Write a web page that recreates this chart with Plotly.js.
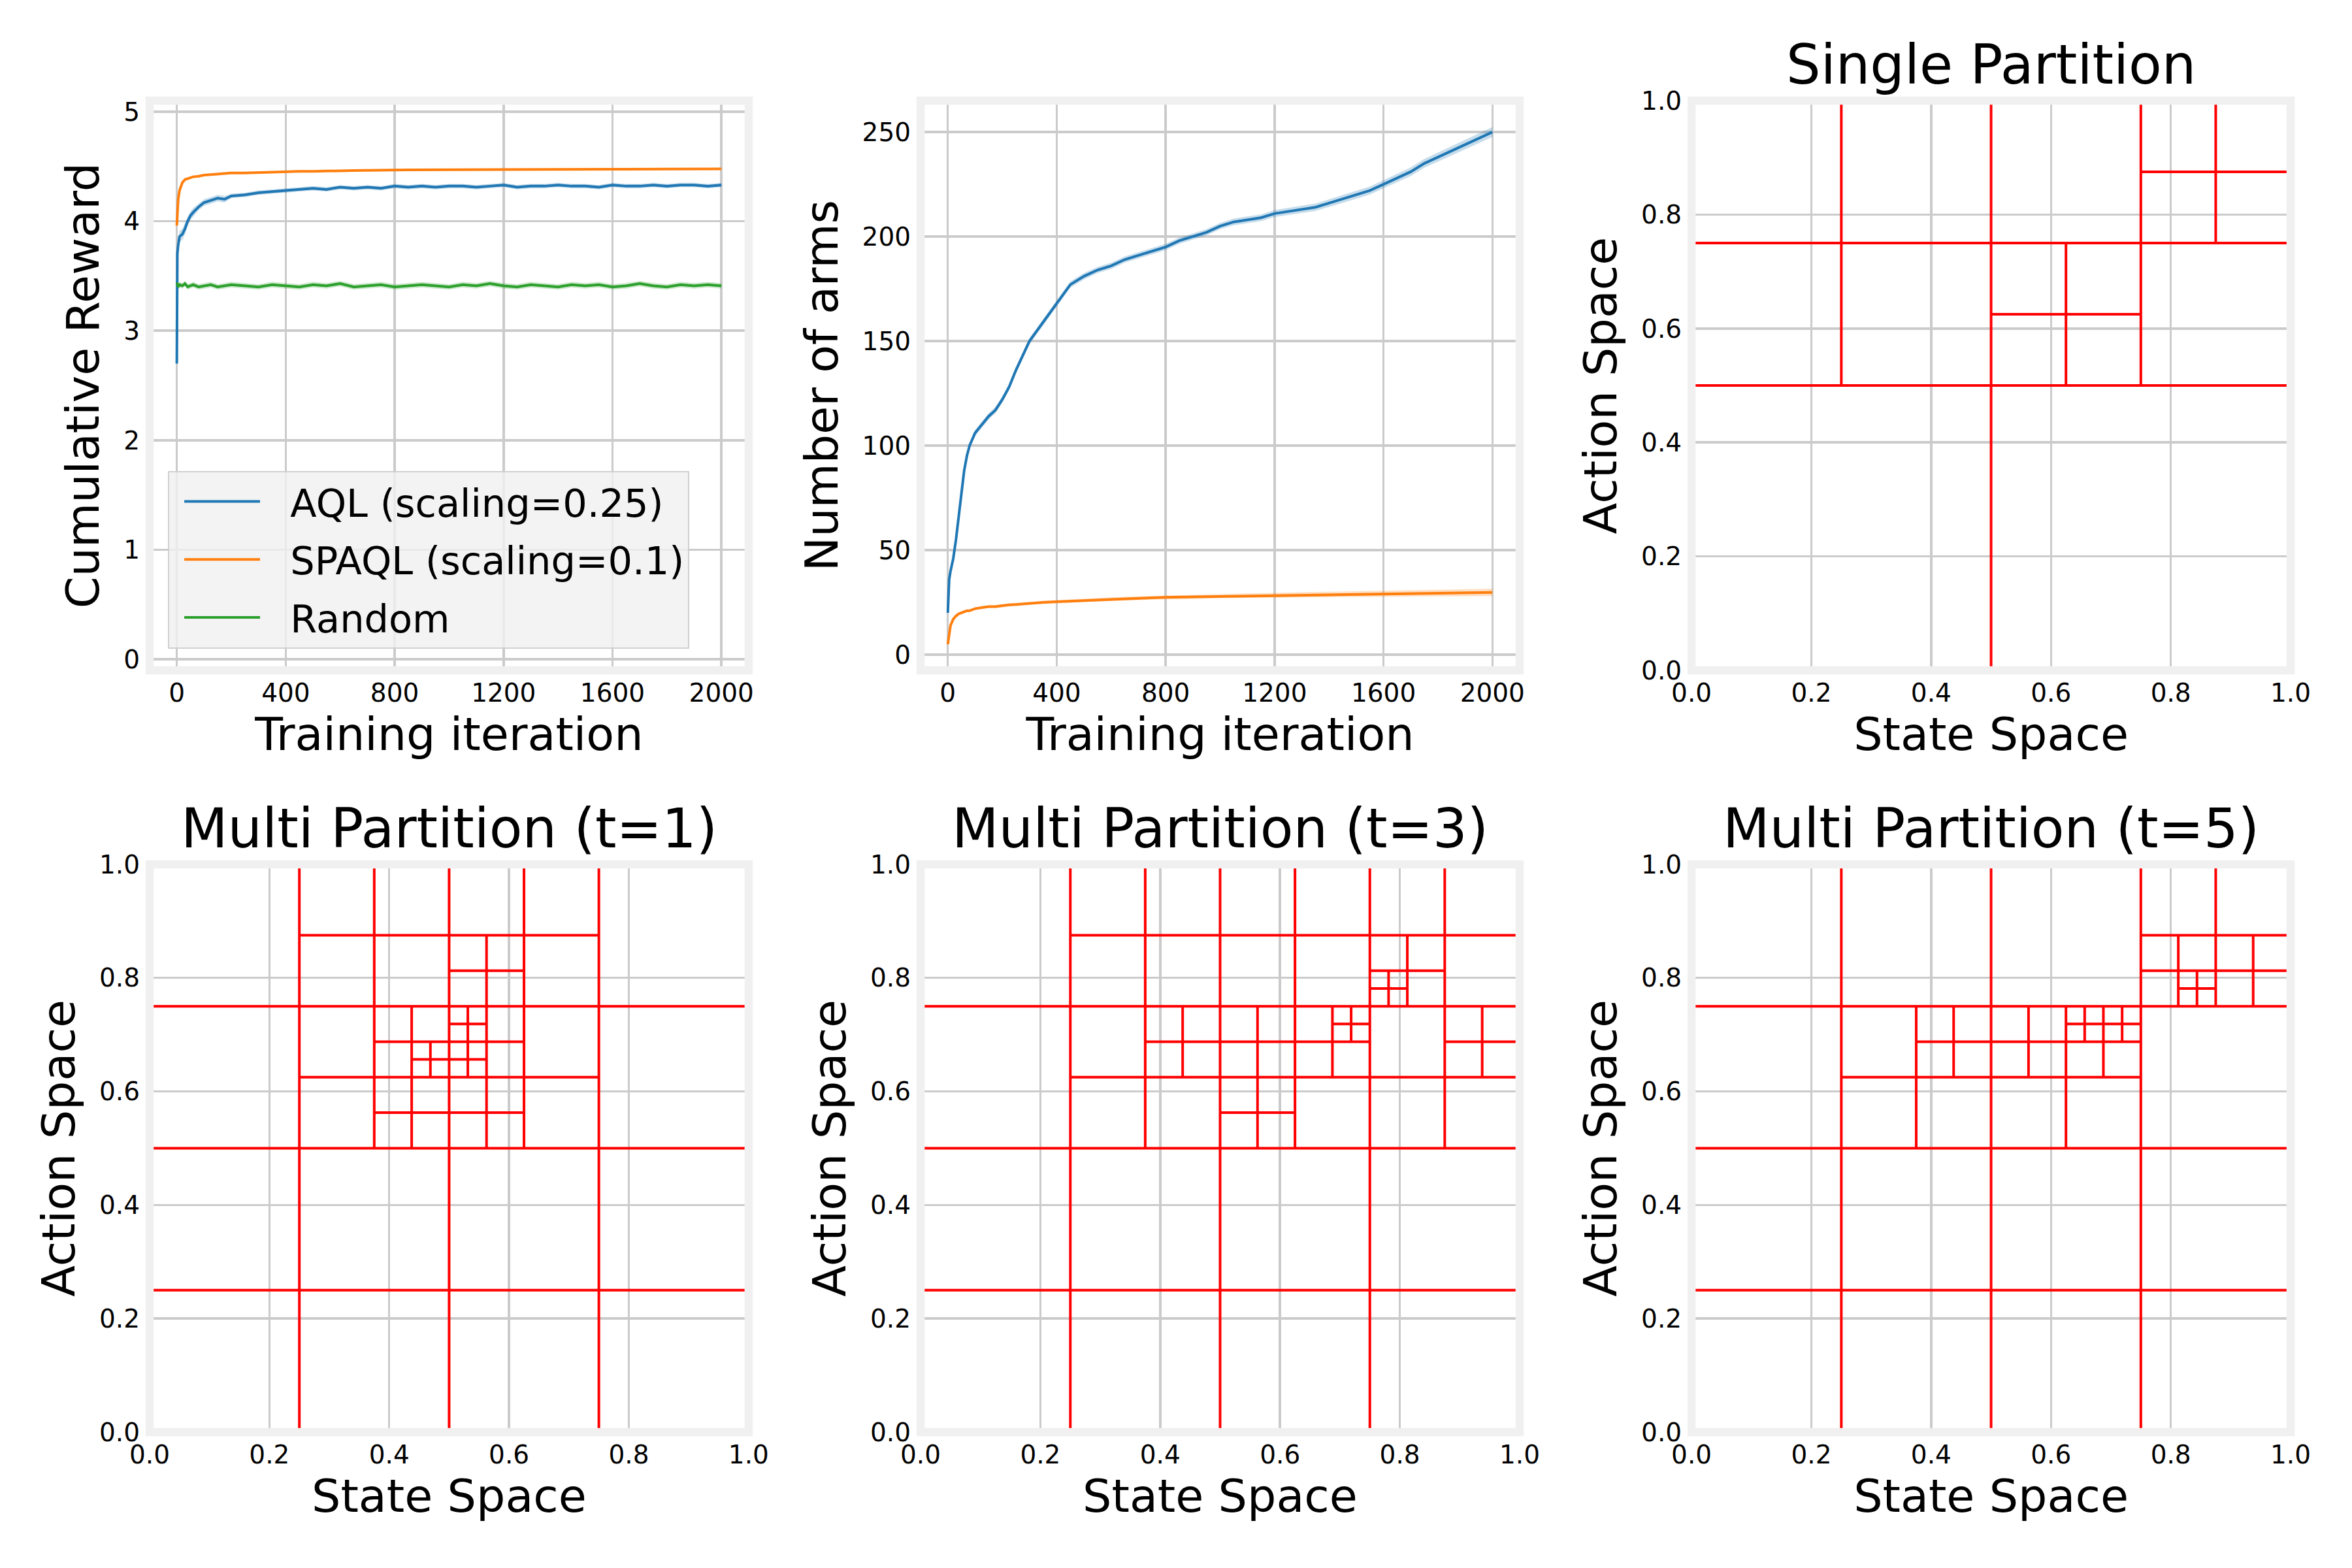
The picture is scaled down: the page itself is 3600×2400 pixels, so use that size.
<!DOCTYPE html>
<html>
<head>
<meta charset="utf-8">
<script src="https://cdn.plot.ly/plotly-3.0.1.min.js"></script>
<style>body{margin:0;background:#fff}</style>
</head>
<body>
<div id="chart" style="width:3600px;height:2400px"></div>
<script>
const FONT = 'DejaVu Sans, sans-serif';
const BLUE = '#1f77b4', ORANGE = '#ff7f0e', GREEN = '#2ca02c';

// cumulative reward per training iteration
const iterReward = [0, 2, 5, 10, 20, 30, 40, 50, 60, 80, 100, 125, 150, 175, 200,
    250, 300, 350, 400, 450, 500, 550, 600, 650, 700, 750, 800, 850, 900, 950,
    1000, 1050, 1100, 1150, 1200, 1250, 1300, 1350, 1400, 1450, 1500, 1550, 1600, 1650, 1700,
    1750, 1800, 1850, 1900, 1950, 2000];
const aqlReward = [2.70, 3.70, 3.78, 3.86, 3.88, 3.93, 4.00, 4.05, 4.08, 4.13, 4.17, 4.19, 4.21, 4.20, 4.23,
    4.24, 4.26, 4.27, 4.28, 4.29, 4.30, 4.29, 4.31, 4.30, 4.31, 4.30, 4.32, 4.31, 4.32, 4.31,
    4.32, 4.32, 4.31, 4.32, 4.33, 4.31, 4.32, 4.32, 4.33, 4.32, 4.32, 4.31, 4.33, 4.32, 4.32,
    4.33, 4.32, 4.33, 4.33, 4.32, 4.33];
const aqlRewardSpread = [0.03, 0.06, 0.06, 0.05, 0.05, 0.05, 0.04, 0.04, 0.04, 0.03, 0.03, 0.03, 0.03, 0.03, 0.02,
    0.02, 0.02, 0.02, 0.02, 0.02, 0.02, 0.02, 0.02, 0.02, 0.02, 0.02, 0.02, 0.02, 0.02, 0.02,
    0.02, 0.02, 0.02, 0.02, 0.02, 0.02, 0.02, 0.02, 0.02, 0.02, 0.02, 0.02, 0.02, 0.02, 0.02,
    0.02, 0.02, 0.02, 0.02, 0.02, 0.02];
const spaqlReward = [3.96, 4.10, 4.20, 4.28, 4.35, 4.38, 4.39, 4.40, 4.405, 4.41, 4.42, 4.425, 4.43, 4.435, 4.44,
    4.44, 4.445, 4.45, 4.45, 4.455, 4.455, 4.46, 4.46, 4.462, 4.465, 4.465, 4.467, 4.468, 4.468, 4.47,
    4.47, 4.47, 4.47, 4.471, 4.472, 4.472, 4.472, 4.473, 4.473, 4.473, 4.474, 4.474, 4.474, 4.475, 4.475,
    4.475, 4.475, 4.476, 4.476, 4.476, 4.477];
const randomReward = [3.44, 3.42, 3.40, 3.42, 3.41, 3.43, 3.40, 3.41, 3.42, 3.40, 3.41, 3.42, 3.40, 3.41, 3.42,
    3.41, 3.40, 3.42, 3.41, 3.40, 3.42, 3.41, 3.43, 3.40, 3.41, 3.42, 3.40, 3.41, 3.42, 3.41,
    3.40, 3.42, 3.41, 3.43, 3.41, 3.40, 3.42, 3.41, 3.40, 3.42, 3.41, 3.42, 3.40, 3.41, 3.43,
    3.41, 3.40, 3.42, 3.41, 3.42, 3.41];
const randomRewardSpread = [0.025, 0.025, 0.025, 0.025, 0.025, 0.025, 0.025, 0.025, 0.025, 0.025, 0.025, 0.025, 0.025, 0.025, 0.025,
    0.025, 0.025, 0.025, 0.025, 0.025, 0.025, 0.025, 0.025, 0.025, 0.025, 0.025, 0.025, 0.025, 0.025, 0.025,
    0.025, 0.025, 0.025, 0.025, 0.025, 0.025, 0.025, 0.025, 0.025, 0.025, 0.025, 0.025, 0.025, 0.025, 0.025,
    0.025, 0.025, 0.025, 0.025, 0.025, 0.025];
const rewardNames = ['AQL (scaling=0.25)', 'SPAQL (scaling=0.1)', 'Random'];

// number of arms per training iteration
const iterArms = [0, 5, 10, 20, 30, 40, 50, 60, 70, 80, 90, 100, 125, 150, 175, 200, 225, 250, 275, 300,
    350, 400, 450, 500, 550, 600, 650, 700, 750, 800, 850, 900, 950, 1000, 1050, 1100, 1150, 1200, 1250, 1300,
    1350, 1400, 1450, 1500, 1550, 1600, 1650, 1700, 1750, 1800, 1850, 1900, 1950, 2000];
const aqlArms = [20, 36, 40, 46, 55, 66, 76, 88, 95, 100, 103, 106, 110, 114, 117, 122, 128, 136, 143, 150,
    159, 168, 177, 181, 184, 186, 189, 191, 193, 195, 198, 200, 202, 205, 207, 208, 209, 211, 212, 213,
    214, 216, 218, 220, 222, 225, 228, 231, 235, 238, 241, 244, 247, 250];
const aqlArmsSpread = [1, 1.5, 1.5, 1.5, 1.5, 1.5, 1.5, 1.5, 1.5, 1.5, 1.5, 1.5, 1.5, 1.5, 1.5, 1.5, 1.5, 1.5, 1.5, 1.5,
    1.5, 1.5, 1.5, 1.5, 1.5, 1.5, 1.5, 1.5, 1.5, 1.5, 1.5, 1.5, 1.5, 1.5, 1.6, 1.6, 1.6, 1.7, 1.7, 1.7,
    1.8, 1.8, 1.8, 1.9, 1.9, 2, 2, 2.1, 2.1, 2.2, 2.2, 2.3, 2.3, 2.4];
const spaqlArms = [5, 10, 14, 17, 18.5, 19.5, 20, 20.5, 21, 21, 21.5, 22, 22.5, 23, 23, 23.5, 23.8, 24, 24.3, 24.6,
    25, 25.3, 25.6, 26, 26.3, 26.6, 26.8, 27, 27.2, 27.4, 27.5, 27.7, 27.8, 28, 28.1, 28.2, 28.3, 28.4, 28.5, 28.6,
    28.7, 28.8, 28.9, 29, 29.1, 29.2, 29.2, 29.3, 29.4, 29.5, 29.5, 29.6, 29.7, 29.8];
const spaqlArmsSpread = [0.3, 0.4, 0.5, 0.5, 0.5, 0.5, 0.5, 0.5, 0.5, 0.5, 0.6, 0.6, 0.6, 0.6, 0.6, 0.6, 0.6, 0.7, 0.7, 0.7,
    0.7, 0.7, 0.8, 0.8, 0.8, 0.8, 0.9, 0.9, 0.9, 0.9, 1, 1, 1, 1, 1.1, 1.1, 1.1, 1.2, 1.2, 1.2,
    1.3, 1.3, 1.3, 1.4, 1.4, 1.4, 1.5, 1.5, 1.5, 1.6, 1.6, 1.7, 1.7, 1.8];

// partitions: each box that got split in four, as [x0, x1, y0, y1]
const singleSplits = [
    [0, 1, 0, 1], [0, .5, .5, 1], [.5, 1, .5, 1], [.5, .75, .5, .75], [.75, 1, .75, 1]
];
const multiT1Splits = [
    [0, 1, 0, 1], [0, .5, 0, .5], [.5, 1, 0, .5], [0, .5, .5, 1], [.5, 1, .5, 1],
    [.25, .5, .75, 1], [.25, .5, .5, .75], [.5, .75, .75, 1], [.5, .75, .5, .75],
    [.5, .625, .75, .875], [.5, .625, .625, .75], [.375, .5, .625, .75], [.375, .5, .5, .625], [.5, .625, .5, .625],
    [.5, .5625, .6875, .75], [.5, .5625, .625, .6875], [.4375, .5, .625, .6875]
];
const multiT3Splits = [
    [0, 1, 0, 1], [0, .5, 0, .5], [.5, 1, 0, .5], [0, .5, .5, 1], [.5, 1, .5, 1],
    [.25, .5, .75, 1], [.25, .5, .5, .75], [.5, .75, .75, 1], [.5, .75, .5, .75], [.75, 1, .75, 1], [.75, 1, .5, .75],
    [.375, .5, .625, .75], [.5, .625, .625, .75], [.625, .75, .625, .75], [.5, .625, .5, .625],
    [.875, 1, .625, .75], [.75, .875, .75, .875],
    [.6875, .75, .6875, .75], [.75, .8125, .75, .8125]
];
const multiT5Splits = [
    [0, 1, 0, 1], [0, .5, 0, .5], [.5, 1, 0, .5], [0, .5, .5, 1], [.5, 1, .5, 1],
    [.25, .5, .5, .75], [.5, .75, .5, .75], [.75, 1, .75, 1],
    [.375, .5, .625, .75], [.5, .625, .625, .75], [.625, .75, .625, .75], [.75, .875, .75, .875], [.875, 1, .75, .875],
    [.625, .6875, .6875, .75], [.6875, .75, .6875, .75], [.8125, .875, .75, .8125]
];
const partitionTitles = ['Single Partition', 'Multi Partition (t=1)', 'Multi Partition (t=3)', 'Multi Partition (t=5)'];

// subplot boxes (paper fractions)
const colDomains = [[0.0636, 0.3183], [0.3914, 0.6461], [0.7192, 0.9739]];
const rowDomains = [[0.5725, 0.9358], [0.0867, 0.4488]];

function band(x, y, spread, color, xa, ya) {
    const upper = y.map((v, i) => v + spread[i]);
    const lower = y.map((v, i) => v - spread[i]);
    return {
        x: x.concat(x.slice().reverse()),
        y: upper.concat(lower.reverse()),
        mode: 'lines', fill: 'toself', fillcolor: color, line: {width: 0},
        showlegend: false, hoverinfo: 'skip', xaxis: xa, yaxis: ya
    };
}

function curve(x, y, color, name, xa, ya, legend) {
    return {
        // the en space + thin space opens the gap between legend line and label
        x: x, y: y, mode: 'lines', name: legend ? '\u2002\u2009' + name : name,
        line: {color: color, width: 4},
        showlegend: legend, legendgroup: name, xaxis: xa, yaxis: ya
    };
}

function partitionTrace(splits, xa, ya) {
    const xs = [], ys = [];
    splits.forEach(([x0, x1, y0, y1]) => {
        const xm = (x0 + x1) / 2, ym = (y0 + y1) / 2;
        xs.push(xm, xm, null, x0, x1, null);
        ys.push(y0, y1, null, ym, ym, null);
    });
    return {
        x: xs, y: ys, mode: 'lines', line: {color: '#ff0000', width: 4},
        showlegend: false, hoverinfo: 'skip', xaxis: xa, yaxis: ya
    };
}

const data = [
    band(iterReward, aqlReward, aqlRewardSpread, 'rgba(31,119,180,0.25)', 'x', 'y'),
    band(iterReward, randomReward, randomRewardSpread, 'rgba(44,160,44,0.25)', 'x', 'y'),
    curve(iterReward, aqlReward, BLUE, rewardNames[0], 'x', 'y', true),
    curve(iterReward, spaqlReward, ORANGE, rewardNames[1], 'x', 'y', true),
    curve(iterReward, randomReward, GREEN, rewardNames[2], 'x', 'y', true),
    band(iterArms, aqlArms, aqlArmsSpread, 'rgba(31,119,180,0.25)', 'x2', 'y2'),
    band(iterArms, spaqlArms, spaqlArmsSpread, 'rgba(255,127,14,0.25)', 'x2', 'y2'),
    curve(iterArms, aqlArms, BLUE, 'AQL arms', 'x2', 'y2', false),
    curve(iterArms, spaqlArms, ORANGE, 'SPAQL arms', 'x2', 'y2', false),
    partitionTrace(singleSplits, 'x3', 'y3'),
    partitionTrace(multiT1Splits, 'x4', 'y4'),
    partitionTrace(multiT3Splits, 'x5', 'y5'),
    partitionTrace(multiT5Splits, 'x6', 'y6')
];

function axis(domain, range, dtick, anchor, title, extra) {
    return Object.assign({
        domain: domain, range: range, dtick: dtick, anchor: anchor,
        showline: false, zeroline: false, showgrid: true,
        gridcolor: '#cbcbcb', gridwidth: 3.5, ticks: '',
        tickfont: {family: FONT, size: 39, color: '#000'},
        title: {text: title, font: {family: FONT, size: 70, color: '#000'}, standoff: 14},
        fixedrange: true
    }, extra);
}

const layout = {
    width: 3600, height: 2400,
    margin: {l: 0, r: 0, t: 0, b: 0},
    paper_bgcolor: '#ffffff', plot_bgcolor: '#ffffff',
    font: {family: FONT, color: '#000'},
    showlegend: true,
    legend: {
        x: 0.0714, y: 0.6997, xanchor: 'left', yanchor: 'top',
        bgcolor: 'rgba(240,240,240,0.8)', bordercolor: '#d0d0d0', borderwidth: 2,
        font: {family: FONT, size: 59, color: '#000'},
        itemwidth: 116, tracegroupgap: 9, indentation: 18
    },
    xaxis: axis(colDomains[0], [-100, 2100], 400, 'y', 'Training iteration', {ticklabelstandoff: 8}),
    yaxis: axis(rowDomains[0], [-0.1, 5.1], 1, 'x', 'Cumulative Reward', {ticklabelstandoff: 14}),
    xaxis2: axis(colDomains[1], [-100, 2100], 400, 'y2', 'Training iteration', {ticklabelstandoff: 8}),
    yaxis2: axis(rowDomains[0], [-7.5, 265], 50, 'x2', 'Number of arms', {ticklabelstandoff: 14}),
    shapes: [],
    annotations: []
};

const partitionCells = [[2, 0], [0, 1], [1, 1], [2, 1]];
partitionCells.forEach(([c, r], i) => {
    const n = i + 3;
    layout['xaxis' + n] = axis(colDomains[c], [0, 1], 0.2, 'y' + n, 'State Space', {tickformat: '.1f', ticklabelstandoff: 8});
    layout['yaxis' + n] = axis(rowDomains[r], [0, 1], 0.2, 'x' + n, 'Action Space', {tickformat: '.1f', ticklabelstandoff: 14});
    layout.annotations.push({
        text: partitionTitles[i], xref: 'paper', yref: 'paper',
        x: (colDomains[c][0] + colDomains[c][1]) / 2, y: rowDomains[r][1],
        xanchor: 'center', yanchor: 'bottom', yshift: 4, showarrow: false,
        font: {family: FONT, size: 83, color: '#000'}
    });
});

// light grey frame around each subplot
['', '2', '3', '4', '5', '6'].forEach(n => {
    layout.shapes.push({
        type: 'rect', xref: 'x' + n + ' domain', yref: 'y' + n + ' domain',
        x0: 0, x1: 1, y0: 0, y1: 1, layer: 'above',
        line: {color: '#f0f0f0', width: 12.5}
    });
});

Plotly.newPlot('chart', data, layout, {staticPlot: true});
</script>
</body>
</html>
